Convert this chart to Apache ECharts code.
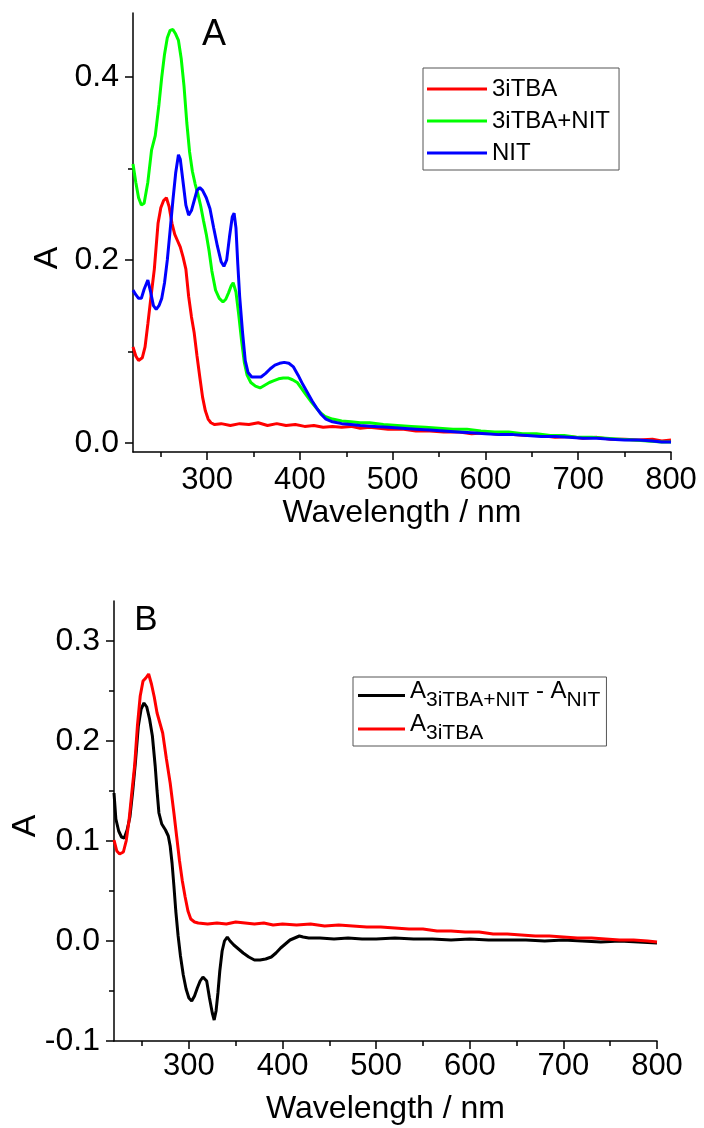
<!DOCTYPE html>
<html>
<head>
<meta charset="utf-8">
<script src="https://cdn.jsdelivr.net/npm/echarts@6/dist/echarts.min.js"></script>
<style>
  html, body { margin: 0; padding: 0; background: #fff; }
  #chart { width: 704px; height: 1128px; }
</style>
</head>
<body>
<div id="chart"></div>
<script>
// panel A : 3iTBA (red)
var wlRedA = [220, 223, 226, 230, 233, 236, 240, 243, 247, 250, 253, 256, 259, 262, 265, 268, 271, 274, 277, 280,
  283, 286, 289, 292, 295, 298, 301, 304, 308, 315, 325, 335, 345, 355, 365, 375, 385, 395, 405, 415, 425, 435, 445,
  455, 465, 475, 485, 495, 510, 525, 540, 555, 570, 585, 600, 615, 630, 645, 660, 675, 690, 705, 720, 735, 750, 765,
  780, 790, 800]
var absRedA = [0.105, 0.095, 0.090, 0.093, 0.105, 0.130, 0.165, 0.190, 0.240, 0.257, 0.265, 0.268, 0.258, 0.240,
  0.228, 0.221, 0.214, 0.203, 0.190, 0.160, 0.138, 0.120, 0.095, 0.072, 0.050, 0.035, 0.026, 0.022, 0.020, 0.021,
  0.019, 0.021, 0.020, 0.022, 0.019, 0.021, 0.019, 0.020, 0.018, 0.019, 0.017, 0.018, 0.017, 0.018, 0.016, 0.017,
  0.016, 0.015, 0.015, 0.013, 0.013, 0.012, 0.012, 0.010, 0.011, 0.009, 0.009, 0.008, 0.008, 0.006, 0.007, 0.005,
  0.006, 0.004, 0.004, 0.003, 0.004, 0.002, 0.003]

// panel A : 3iTBA+NIT (green)
var wlGreenA = [220, 223, 226, 229, 232, 236, 240, 244, 248, 251, 254, 257, 260, 263, 266, 269, 272, 275, 278, 281,
  284, 287, 290, 293, 296, 299, 302, 305, 309, 313, 317, 320, 323, 326, 328, 331, 334, 337, 340, 343, 347, 352, 357,
  362, 367, 372, 377, 382, 387, 392, 397, 402, 407, 412, 417, 422, 427, 435, 445, 455, 465, 475, 490, 505, 520, 535,
  550, 565, 580, 595, 610, 625, 640, 655, 670, 685, 700, 715, 730, 745, 760, 775, 790, 800]
var absGreenA = [0.305, 0.285, 0.268, 0.260, 0.262, 0.285, 0.320, 0.336, 0.370, 0.400, 0.425, 0.443, 0.451, 0.452,
  0.447, 0.440, 0.420, 0.390, 0.350, 0.318, 0.297, 0.283, 0.272, 0.259, 0.243, 0.228, 0.210, 0.188, 0.167, 0.158,
  0.154, 0.157, 0.164, 0.172, 0.175, 0.165, 0.140, 0.112, 0.088, 0.074, 0.066, 0.062, 0.060, 0.063, 0.066, 0.068,
  0.070, 0.071, 0.071, 0.069, 0.066, 0.059, 0.052, 0.045, 0.039, 0.033, 0.029, 0.026, 0.024, 0.023, 0.022, 0.022,
  0.020, 0.019, 0.018, 0.017, 0.016, 0.015, 0.015, 0.013, 0.012, 0.012, 0.010, 0.010, 0.008, 0.008, 0.006, 0.006,
  0.005, 0.004, 0.003, 0.002, 0.001, 0.001]

// panel A : NIT (blue)
var wlBlueA = [220, 223, 226, 229, 232, 236, 239, 242, 245, 248, 251, 254, 257, 260, 263, 266, 269, 271, 274, 277,
  280, 283, 286, 289, 292, 295, 299, 303, 307, 311, 315, 318, 321, 324, 327, 329, 331, 333, 335, 338, 341, 344, 348,
  353, 358, 363, 368, 373, 378, 383, 388, 393, 398, 403, 408, 413, 418, 423, 428, 435, 445, 455, 465, 480, 495, 510,
  525, 540, 555, 570, 585, 600, 615, 630, 645, 660, 675, 690, 705, 720, 735, 750, 765, 780, 790, 800]
var absBlueA = [0.167, 0.162, 0.158, 0.158, 0.168, 0.178, 0.165, 0.150, 0.146, 0.150, 0.158, 0.175, 0.200, 0.232,
  0.265, 0.295, 0.315, 0.310, 0.285, 0.260, 0.249, 0.254, 0.265, 0.276, 0.279, 0.276, 0.268, 0.256, 0.235, 0.215,
  0.198, 0.193, 0.200, 0.225, 0.247, 0.251, 0.235, 0.195, 0.160, 0.122, 0.090, 0.077, 0.072, 0.072, 0.072, 0.076,
  0.081, 0.085, 0.087, 0.088, 0.087, 0.083, 0.074, 0.064, 0.055, 0.046, 0.038, 0.031, 0.026, 0.023, 0.021, 0.020,
  0.019, 0.018, 0.017, 0.016, 0.015, 0.014, 0.013, 0.012, 0.011, 0.010, 0.009, 0.009, 0.008, 0.007, 0.007, 0.006,
  0.005, 0.005, 0.004, 0.003, 0.003, 0.002, 0.001, 0.001]

// panel B : difference spectrum (black)
var wlDiffB = [220, 222, 225, 228, 231, 234, 237, 240, 243, 246, 249, 252, 255, 258, 261, 264, 266, 268, 271, 275,
  278, 280, 282, 284, 286, 288.5, 291, 294, 297, 300, 303, 306, 309, 312, 315, 317, 319, 322, 325, 327, 329, 331,
  333, 335.5, 338, 341, 344, 348, 353, 358, 364, 370, 376, 382, 388, 393, 398, 403, 408, 413, 418, 422, 428, 440,
  455, 470, 485, 500, 520, 540, 560, 580, 600, 620, 640, 660, 680, 700, 720, 740, 760, 780, 800]
var absDiffB = [0.148, 0.122, 0.110, 0.104, 0.103, 0.111, 0.124, 0.150, 0.180, 0.215, 0.232, 0.238, 0.234, 0.222,
  0.205, 0.175, 0.150, 0.128, 0.117, 0.111, 0.105, 0.095, 0.078, 0.055, 0.030, 0.005, -0.015, -0.034, -0.048,
  -0.057, -0.060, -0.055, -0.047, -0.040, -0.036, -0.036, -0.040, -0.057, -0.072, -0.079, -0.070, -0.052, -0.030,
  -0.010, 0.000, 0.004, 0.000, -0.004, -0.008, -0.012, -0.016, -0.019, -0.019, -0.018, -0.016, -0.012, -0.007,
  -0.003, 0.001, 0.003, 0.005, 0.004, 0.003, 0.003, 0.002, 0.003, 0.002, 0.002, 0.003, 0.002, 0.002, 0.001, 0.002,
  0.001, 0.001, 0.001, 0.000, 0.001, 0.000, -0.001, 0.000, -0.001, -0.002]

// panel B : 3iTBA (red)
var wlRedB = [220, 223, 226, 230, 233, 236, 239, 242, 245, 248, 251, 254, 257, 260, 263, 266, 269, 272, 276, 280,
  284, 287, 290, 293, 296, 299, 302, 306, 310, 320, 330, 340, 350, 360, 370, 380, 390, 400, 415, 430, 445, 460, 475,
  490, 505, 520, 535, 550, 565, 580, 595, 610, 625, 640, 655, 670, 685, 700, 715, 730, 745, 760, 775, 790, 800]
var absRedB = [0.101, 0.090, 0.087, 0.089, 0.100, 0.120, 0.148, 0.175, 0.215, 0.245, 0.260, 0.263, 0.267, 0.257,
  0.244, 0.228, 0.218, 0.208, 0.182, 0.158, 0.128, 0.104, 0.080, 0.060, 0.044, 0.030, 0.022, 0.019, 0.018, 0.017,
  0.018, 0.017, 0.019, 0.018, 0.017, 0.018, 0.016, 0.017, 0.016, 0.017, 0.015, 0.016, 0.015, 0.014, 0.014, 0.013,
  0.012, 0.012, 0.010, 0.010, 0.009, 0.009, 0.007, 0.007, 0.006, 0.005, 0.005, 0.004, 0.003, 0.003, 0.002, 0.001,
  0.001, 0.000, -0.001]

// ticks
var xMajorTicks = [300, 400, 500, 600, 700, 800]
var xMinorTicks = [250, 350, 450, 550, 650, 750]
var yMajorTicksA = [0, 0.2, 0.4]
var yMinorTicksA = [0.1, 0.3]
var yMajorTicksB = [-0.1, 0, 0.1, 0.2, 0.3]
var yMinorTicksB = [-0.05, 0.05, 0.15, 0.25]

var FONT = "'Liberation Sans', Arial, sans-serif"

function pairs(xs, ys) {
  return xs.map(function (x, i) { return [x, ys[i]] })
}

function majorX(gridIndex, nameGap, labelMargin) {
  return {
    type: 'value', gridIndex: gridIndex, min: 220, max: 800,
    name: 'Wavelength / nm', nameLocation: 'middle', nameGap: nameGap,
    nameTextStyle: { fontFamily: FONT, fontSize: 32, color: '#000' },
    axisLine: { show: true, onZero: false, lineStyle: { color: '#000', width: 1.5 } },
    axisTick: { show: true, customValues: xMajorTicks, length: 8, lineStyle: { color: '#000', width: 1.5 } },
    axisLabel: { customValues: xMajorTicks, margin: labelMargin, fontFamily: FONT, fontSize: 31, color: '#000' },
    splitLine: { show: false }
  }
}

function minorX(gridIndex) {
  return {
    type: 'value', gridIndex: gridIndex, min: 220, max: 800, position: 'bottom',
    axisLine: { show: false, onZero: false },
    axisTick: { show: true, customValues: xMinorTicks, length: 5, lineStyle: { color: '#000', width: 1.5 } },
    axisLabel: { show: false },
    splitLine: { show: false }
  }
}

function majorY(gridIndex, min, max, ticks) {
  return {
    type: 'value', gridIndex: gridIndex, min: min, max: max, position: 'left',
    axisLine: { show: true, onZero: false, lineStyle: { color: '#000', width: 1.5 } },
    axisTick: { show: true, customValues: ticks, length: 8, lineStyle: { color: '#000', width: 1.5 } },
    axisLabel: {
      customValues: ticks, margin: 14, fontFamily: FONT, fontSize: 32, color: '#000',
      formatter: function (v) { return v.toFixed(1) }
    },
    splitLine: { show: false }
  }
}

function minorY(gridIndex, min, max, ticks) {
  return {
    type: 'value', gridIndex: gridIndex, min: min, max: max, position: 'left',
    axisLine: { show: false, onZero: false },
    axisTick: { show: true, customValues: ticks, length: 5, lineStyle: { color: '#000', width: 1.5 } },
    axisLabel: { show: false },
    splitLine: { show: false }
  }
}

function lineSeries(name, data, color, xi, yi) {
  return {
    name: name, type: 'line', data: data, xAxisIndex: xi, yAxisIndex: yi,
    showSymbol: false, symbol: 'none', smooth: false,
    lineStyle: { color: color, width: 3 }, itemStyle: { color: color }
  }
}

var chart = echarts.init(document.getElementById('chart'), null, { renderer: 'canvas' })

var option = {
  animation: false,
  backgroundColor: '#fff',
  grid: [
    { left: 133, top: 13, right: 33, bottom: 676 },
    { left: 114, top: 601, right: 47, bottom: 87 }
  ],
  xAxis: [majorX(0, 42, 13), minorX(0), majorX(1, 52, 10), minorX(1)],
  yAxis: [
    majorY(0, -0.01, 0.47, yMajorTicksA), minorY(0, -0.01, 0.47, yMinorTicksA),
    majorY(1, -0.1, 0.34, yMajorTicksB), minorY(1, -0.1, 0.34, yMinorTicksB)
  ],
  legend: [
    {
      data: ['3iTBA', '3iTBA+NIT', 'NIT'],
      orient: 'vertical', left: 423, top: 68,
      icon: 'rect', itemWidth: 60, itemHeight: 3, itemGap: 4,
      padding: [7, 9, 3, 4],
      borderColor: '#555', borderWidth: 1,
      selectedMode: false,
      textStyle: { fontFamily: FONT, fontSize: 24, color: '#000', lineHeight: 28 }
    },
    {
      data: ['A3iTBA+NIT - ANIT', 'A3iTBA'],
      orient: 'vertical', left: 353, top: 677,
      icon: 'rect', itemWidth: 47, itemHeight: 3, itemGap: 2,
      padding: [2, 6, 2, 5],
      borderColor: '#555', borderWidth: 1,
      selectedMode: false,
      formatter: function (name) {
        if (name === 'A3iTBA') return '{a|A}{s|3iTBA}'
        return '{a|A}{s|3iTBA+NIT}{a| - A}{s|NIT}'
      },
      textStyle: {
        fontFamily: FONT, fontSize: 23, color: '#000',
        rich: {
          a: { fontFamily: FONT, fontSize: 24, color: '#000', padding: [0, 0, 9, 0] },
          s: { fontFamily: FONT, fontSize: 21, color: '#000', padding: [9, 0, 0, 0] }
        }
      }
    }
  ],
  graphic: [
    { type: 'text', x: 214, y: 35, style: { text: 'A', font: '36px ' + FONT, fill: '#000', align: 'center', verticalAlign: 'middle' } },
    { type: 'text', x: 146, y: 620, style: { text: 'B', font: '35px ' + FONT, fill: '#000', align: 'center', verticalAlign: 'middle' } },
    { type: 'text', x: 48, y: 258, rotation: Math.PI / 2, style: { text: 'A', font: '34px ' + FONT, fill: '#000', align: 'center', verticalAlign: 'middle' } },
    { type: 'text', x: 26, y: 826, rotation: Math.PI / 2, style: { text: 'A', font: '34px ' + FONT, fill: '#000', align: 'center', verticalAlign: 'middle' } }
  ],
  series: [
    lineSeries('3iTBA', pairs(wlRedA, absRedA), '#ff0000', 0, 0),
    lineSeries('3iTBA+NIT', pairs(wlGreenA, absGreenA), '#00ff00', 0, 0),
    lineSeries('NIT', pairs(wlBlueA, absBlueA), '#0000ff', 0, 0),
    lineSeries('A3iTBA+NIT - ANIT', pairs(wlDiffB, absDiffB), '#000000', 2, 2),
    lineSeries('A3iTBA', pairs(wlRedB, absRedB), '#ff0000', 2, 2)
  ]
}

chart.setOption(option)
</script>
</body>
</html>
